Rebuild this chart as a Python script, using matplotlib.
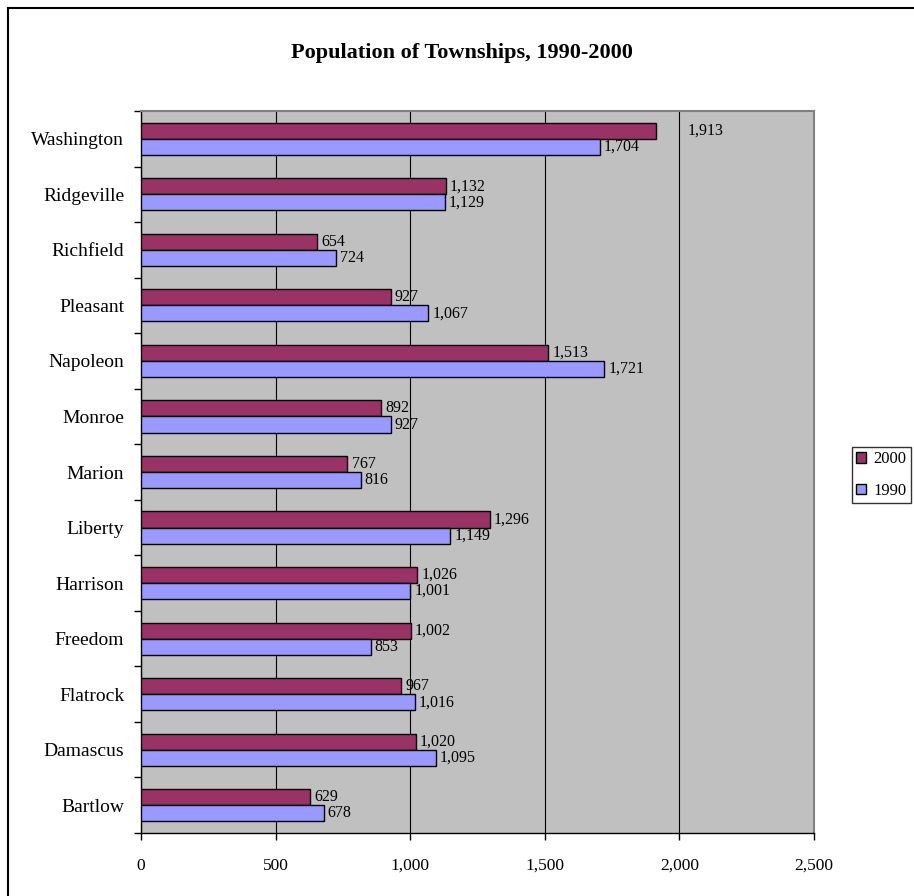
import matplotlib.pyplot as plt
from matplotlib.patches import Patch
from matplotlib.lines import Line2D
import numpy as np

plt.rcParams['font.family'] = ['Liberation Serif', 'DejaVu Serif']

# data, listed bottom to top as drawn
townships = ['Bartlow', 'Damascus', 'Flatrock', 'Freedom', 'Harrison', 'Liberty',
             'Marion', 'Monroe', 'Napoleon', 'Pleasant', 'Richfield', 'Ridgeville',
             'Washington']
pop_2000 = [629, 1020, 967, 1002, 1026, 1296, 767, 892, 1513, 927, 654, 1132, 1913]
pop_1990 = [678, 1095, 1016, 853, 1001, 1149, 816, 927, 1721, 1067, 724, 1129, 1704]
x_ticks = [0, 500, 1000, 1500, 2000, 2500]

c2000 = '#993366'
c1990 = '#9999FF'

W, H = 914, 896
fig = plt.figure(figsize=(W / 100, H / 100), dpi=100)

# plot area in pixel terms
left, right, top, bottom = 141, 814, 111, 833
ax = fig.add_axes([left / W, 1 - bottom / H, (right - left) / W, (bottom - top) / H])
ax.set_facecolor('#C0C0C0')

y = np.arange(len(townships))
h = 0.29
ax.barh(y + h / 2, pop_2000, height=h, color=c2000, edgecolor='black', linewidth=1.0, zorder=3)
ax.barh(y - h / 2, pop_1990, height=h, color=c1990, edgecolor='black', linewidth=1.0, zorder=3)

# data labels (Washington 2000 label sits further right in the original)
for i, (a, b) in enumerate(zip(pop_2000, pop_1990)):
    dx = 23 if townships[i] == 'Washington' else 3
    ax.annotate(f'{a:,}', (a, i + h / 2), xytext=(dx, 0), textcoords='offset points',
                va='center', ha='left', fontsize=11.5, zorder=4)
    ax.annotate(f'{b:,}', (b, i - h / 2), xytext=(3, 0), textcoords='offset points',
                va='center', ha='left', fontsize=11.5, zorder=4)

ax.set_xlim(0, 2500)
ax.set_ylim(-0.5, len(townships) - 0.5)
ax.set_xticks(x_ticks)
ax.set_xticklabels([f'{t:,}' for t in x_ticks], fontsize=12.5)
ax.set_yticks(y)
ax.set_yticklabels(townships, fontsize=14)
ax.set_yticks(np.arange(-0.5, len(townships)), minor=True)
ax.tick_params(axis='y', which='major', length=0, pad=12)
ax.tick_params(axis='y', which='minor', length=5, width=1, direction='out')
ax.tick_params(axis='x', length=5, width=1, direction='out', pad=13)

ax.grid(axis='x', color='black', linewidth=0.8)
ax.set_axisbelow(True)
for s in ['top', 'right']:
    ax.spines[s].set_color('#808080')
    ax.spines[s].set_linewidth(1.5)
for s in ['left', 'bottom']:
    ax.spines[s].set_color('black')
    ax.spines[s].set_linewidth(1.0)

fig.text(0.5 + 0.005, 1 - 53 / H, 'Population of Townships, 1990-2000',
         ha='center', va='center', fontsize=16, fontweight='bold')

handles = [Patch(facecolor=c2000, edgecolor='black', linewidth=1.0, label='2000'),
           Patch(facecolor=c1990, edgecolor='black', linewidth=1.0, label='1990')]
leg = fig.legend(handles=handles, loc='upper left', bbox_to_anchor=(852 / W, 1 - 447 / H),
                 fontsize=12, frameon=True, fancybox=False, borderpad=0.25,
                 handlelength=0.6, handleheight=0.6, handletextpad=0.45,
                 labelspacing=0.95, borderaxespad=0)
leg.get_frame().set_edgecolor('black')
leg.get_frame().set_linewidth(1.0)

# outer chart border (runs off the right and bottom of the image)
fig.add_artist(Line2D([8 / W, 8 / W], [0, 1 - 8 / H], color='black', lw=1.5,
                      transform=fig.transFigure))
fig.add_artist(Line2D([8 / W, 1], [1 - 8 / H, 1 - 8 / H], color='black', lw=1.5,
                      transform=fig.transFigure))

fig.savefig('out.png', dpi=100, facecolor='white')
